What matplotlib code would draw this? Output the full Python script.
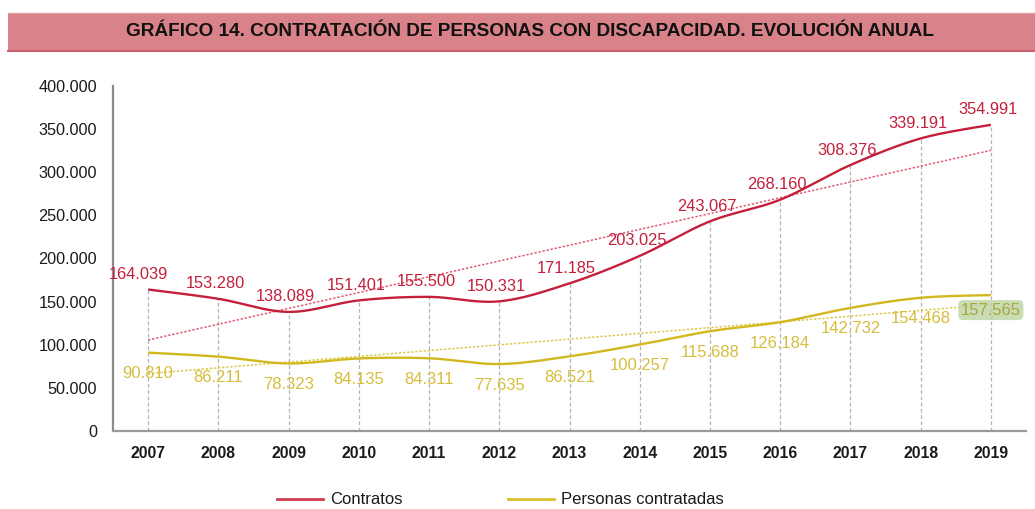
import numpy as np
import matplotlib
matplotlib.use("Agg")
import matplotlib.pyplot as plt
from matplotlib.lines import Line2D
from matplotlib.patches import Rectangle
from matplotlib.transforms import offset_copy

plt.rcParams['font.family'] = ['Liberation Sans', 'DejaVu Sans']

years = ['2007', '2008', '2009', '2010', '2011', '2012', '2013',
         '2014', '2015', '2016', '2017', '2018', '2019']
contratos = [164039, 153280, 138089, 151401, 155500, 150331, 171185,
             203025, 243067, 268160, 308376, 339191, 354991]
personas = [90810, 86211, 78323, 84135, 84311, 77635, 86521,
            100257, 115688, 126184, 142732, 154468, 157565]
yticks = [0, 50000, 100000, 150000, 200000, 250000, 300000, 350000, 400000]
title = 'GRÁFICO 14. CONTRATACIÓN DE PERSONAS CON DISCAPACIDAD. EVOLUCIÓN ANUAL'
series_names = ['Contratos', 'Personas contratadas']

RED = '#c41f3b'
RED_TREND = '#e05a70'
YEL = '#d2b81e'
YEL_LBL = '#d6bd3c'
YEL_TREND = '#dcc84a'


def fmt(v):
    return f'{v:,.0f}'.replace(',', '.')


def smooth(x, y, n=30):
    x = np.asarray(x, float)
    y = np.asarray(y, float)
    P = np.column_stack([x, y])
    out = []
    for i in range(len(P) - 1):
        p0 = P[i - 1] if i > 0 else P[i]
        p1 = P[i]
        p2 = P[i + 1]
        p3 = P[i + 2] if i + 2 < len(P) else P[i + 1]
        c1 = p1 + (p2 - p0) / 6.0
        c2 = p2 - (p3 - p1) / 6.0
        t = np.linspace(0, 1, n)[:, None]
        seg = ((1 - t) ** 3) * p1 + 3 * ((1 - t) ** 2) * t * c1 + 3 * (1 - t) * t ** 2 * c2 + t ** 3 * p2
        out.append(seg if i == 0 else seg[1:])
    s = np.vstack(out)
    return s[:, 0], s[:, 1]


W, H = 1035, 509
fig = plt.figure(figsize=(W / 100, H / 100), dpi=100)
fig.patch.set_facecolor('white')

# Title band
fig.add_artist(Rectangle((8 / W, 1 - 51 / H), 1 - 8 / W, 38 / H, transform=fig.transFigure,
                         facecolor='#d9828a', edgecolor='none'))
fig.add_artist(Line2D([8 / W, 1], [1 - 51 / H, 1 - 51 / H], transform=fig.transFigure,
                      color='#c9606c', lw=1.5))
fig.add_artist(Line2D([8 / W, 1], [1 - 13 / H, 1 - 13 / H], transform=fig.transFigure,
                      color='#e4a0a6', lw=1.0))
fig.text(530 / W, 1 - 32 / H, title, ha='center', va='center', fontsize=13.7,
         fontweight='bold', color='#111111')

ax_l, ax_r, ax_t, ax_b = 113, 1026, 86, 431
ax = fig.add_axes([ax_l / W, 1 - ax_b / H, (ax_r - ax_l) / W, (ax_b - ax_t) / H])
x = np.arange(len(years))

# drop lines
for xi, v in zip(x, contratos):
    ax.plot([xi, xi], [0, v], color='#b4b4b4', lw=0.9, ls=(0, (3, 2)), zorder=1)

# trend lines (least-squares fits of the series)
for vals, col in [(contratos, RED_TREND), (personas, YEL_TREND)]:
    k, b = np.polyfit(x, vals, 1)
    ax.plot([x[0], x[-1]], [k * x[0] + b, k * x[-1] + b], color=col, lw=1.1,
            ls=(0, (1.5, 1.2)), zorder=2)

sx, sy = smooth(x, contratos)
ax.plot(sx, sy, color=RED, lw=1.7, zorder=3, solid_capstyle='butt')
sx, sy = smooth(x, personas)
ax.plot(sx, sy, color=YEL, lw=1.7, zorder=3, solid_capstyle='butt')

# data labels
for i, v in enumerate(contratos):
    dx = -10 if i == 0 else -3
    tr = offset_copy(ax.transData, fig=fig, x=dx * 0.72, y=15 * 0.72, units='points')
    ax.text(i, v, fmt(v), transform=tr, ha='center', va='center', fontsize=11.8,
            color=RED, zorder=5)
for i, v in enumerate(personas):
    last = i == len(personas) - 1
    dy = -15 if last else -21
    tr = offset_copy(ax.transData, fig=fig, x=0, y=dy * 0.72, units='points')
    kw = {}
    if last:
        kw['bbox'] = dict(boxstyle='round,pad=0.15,rounding_size=0.3', facecolor='#bfd6aa',
                          edgecolor='none', alpha=0.85)
    ax.text(i, v, fmt(v), transform=tr, ha='center', va='center', fontsize=12,
            color='#aaa838' if last else YEL_LBL, zorder=5, **kw)

ax.set_xlim(-0.5, len(years) - 0.5)
ax.set_ylim(0, 400000)
ax.set_xticks(x)
ax.set_xticklabels(years, fontsize=11.3, fontweight='bold', color='#1a1a1a')
ax.set_yticks(yticks)
ax.set_yticklabels([fmt(v) for v in yticks], fontsize=11.7, color='#1a1a1a')
ax.tick_params(axis='both', length=0)
ax.tick_params(axis='y', pad=11.5)
ax.tick_params(axis='x', pad=11)
for s in ['top', 'right']:
    ax.spines[s].set_visible(False)
ax.spines['left'].set_color('#8c8c8c')
ax.spines['left'].set_linewidth(1.6)
ax.spines['bottom'].set_color('#9a9a9a')
ax.spines['bottom'].set_linewidth(1.6)
ax.set_facecolor('none')

# legend
ly = 1 - 499 / H
for (x0, x1, tx), col, name in [((277, 323, 330), '#cf3c50', series_names[0]),
                                ((508, 554, 561), '#d6c030', series_names[1])]:
    fig.add_artist(Line2D([x0 / W, x1 / W], [ly, ly], transform=fig.transFigure, color=col, lw=2.0))
    fig.text(tx / W, ly, name, ha='left', va='center', fontsize=12, color='#1a1a1a')

fig.savefig('out.png', dpi=100, facecolor='white')
